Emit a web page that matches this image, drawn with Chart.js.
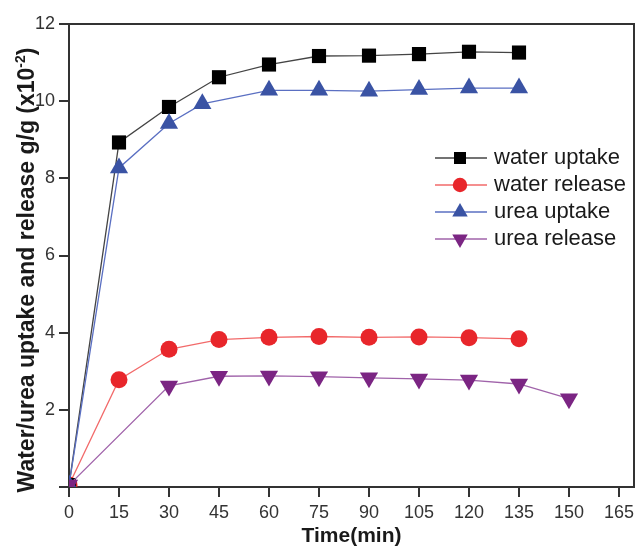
<!DOCTYPE html>
<html>
<head>
<meta charset="utf-8">
<script src="https://cdn.jsdelivr.net/npm/chart.js@4/dist/chart.umd.min.js"></script>
<style>
    body { margin: 0; background: #fff; }
    canvas { display: block; }
</style>
</head>
<body>
<canvas id="grafico" width="637" height="550"></canvas>
<script>
// tempos (min) de cada serie
const temposAgua = [0, 15, 30, 45, 60, 75, 90, 105, 120, 135];
const temposUreiaAbsorcao = [0, 15, 30, 40, 60, 75, 90, 105, 120, 135];
const temposUreiaLiberacao = [0, 30, 45, 60, 75, 90, 105, 120, 135, 150];

// valores g/g (x10^-2)
const aguaAbsorcao = [0.05, 8.93, 9.85, 10.62, 10.95, 11.17, 11.18, 11.22, 11.28, 11.26];
const aguaLiberacao = [0.05, 2.78, 3.57, 3.82, 3.88, 3.9, 3.88, 3.89, 3.87, 3.84];
const ureiaAbsorcao = [0.05, 8.27, 9.42, 9.93, 10.28, 10.28, 10.26, 10.3, 10.34, 10.34];
const ureiaLiberacao = [0.05, 2.62, 2.87, 2.88, 2.86, 2.83, 2.8, 2.77, 2.67, 2.29];

const rotulosX = [0, 15, 30, 45, 60, 75, 90, 105, 120, 135, 150, 165];
const rotulosY = [0, 2, 4, 6, 8, 10, 12];
const nomesSeries = ["water uptake", "water release", "urea uptake", "urea release"];

const fonte = "'Liberation Sans', Arial, sans-serif";

function montarPontos(tempos, valores) {
    return tempos.map((t, i) => ({ x: t, y: valores[i] }));
}

const datasets = [
    {
        label: nomesSeries[0],
        data: montarPontos(temposAgua, aguaAbsorcao),
        borderColor: '#444444',
        backgroundColor: '#000000',
        pointStyle: 'rect',
        pointRadius: 10,
        order: 2
    },
    {
        label: nomesSeries[1],
        data: montarPontos(temposAgua, aguaLiberacao),
        borderColor: '#f26a6a',
        backgroundColor: '#e8262b',
        pointStyle: 'circle',
        pointRadius: 8.5,
        order: 3
    },
    {
        label: nomesSeries[2],
        data: montarPontos(temposUreiaAbsorcao, ureiaAbsorcao),
        borderColor: '#5a6fc2',
        backgroundColor: '#3a53a4',
        pointStyle: 'triangle',
        pointRadius: 10.5,
        order: 1
    },
    {
        label: nomesSeries[3],
        data: montarPontos(temposUreiaLiberacao, ureiaLiberacao),
        borderColor: '#a063aa',
        backgroundColor: '#7b2583',
        pointStyle: 'triangle',
        pointRotation: 180,
        pointRadius: 10.5,
        order: 0
    }
];

datasets.forEach(d => {
    d.borderWidth = 1.3;
    d.pointBorderWidth = 0;
    d.pointBorderColor = d.backgroundColor;
    d.pointBackgroundColor = d.backgroundColor;
    d.tension = 0;
    d.fill = false;
});

// moldura, titulo do eixo y e legenda desenhados a mao
const extras = {
    id: 'extras',
    afterDraw(chart) {
        const ctx = chart.ctx;
        const area = chart.chartArea;
        ctx.save();
        ctx.strokeStyle = '#333';
        ctx.lineWidth = 2;
        ctx.beginPath();
        ctx.moveTo(area.left, area.top);
        ctx.lineTo(area.right, area.top);
        ctx.lineTo(area.right, area.bottom);
        ctx.stroke();

        // titulo do eixo y com expoente
        ctx.translate(34, 270);
        ctx.rotate(-Math.PI / 2);
        ctx.fillStyle = '#1a1a1a';
        ctx.textBaseline = 'alphabetic';
        ctx.textAlign = 'left';
        const parte1 = 'Water/urea uptake and release g/g (x10';
        const expoente = '-2';
        const parte3 = ')';
        ctx.font = 'bold 23px ' + fonte;
        const w1 = ctx.measureText(parte1).width;
        const w3 = ctx.measureText(parte3).width;
        ctx.font = 'bold 14px ' + fonte;
        const w2 = ctx.measureText(expoente).width;
        let x = -(w1 + w2 + w3) / 2;
        ctx.font = 'bold 23px ' + fonte;
        ctx.fillText(parte1, x, 0);
        x += w1;
        ctx.font = 'bold 14px ' + fonte;
        ctx.fillText(expoente, x, -9);
        x += w2;
        ctx.font = 'bold 23px ' + fonte;
        ctx.fillText(parte3, x, 0);
        ctx.restore();

        // legenda
        ctx.save();
        chart.data.datasets.forEach((d, i) => {
            const y = 158 + i * 27;
            ctx.strokeStyle = d.borderColor;
            ctx.lineWidth = 1.3;
            ctx.beginPath();
            ctx.moveTo(435, y);
            ctx.lineTo(487, y);
            ctx.stroke();
            ctx.fillStyle = d.backgroundColor;
            ctx.strokeStyle = d.backgroundColor;
            Chart.helpers.drawPoint(ctx, {
                pointStyle: d.pointStyle,
                rotation: d.pointRotation || 0,
                radius: d.pointRadius * 0.85,
                borderWidth: 0
            }, 460, y);
            ctx.fillStyle = '#1a1a1a';
            ctx.font = '22px ' + fonte;
            ctx.textBaseline = 'middle';
            ctx.textAlign = 'left';
            ctx.fillText(d.label, 494, y);
        });
        ctx.restore();
    }
};

new Chart(document.querySelector('#grafico'), {
    type: 'line',
    data: { datasets: datasets },
    plugins: [extras],
    options: {
        responsive: false,
        animation: false,
        devicePixelRatio: 1,
        layout: { autoPadding: false, padding: { top: 24, right: 3, left: 0, bottom: 0 } },
        plugins: {
            legend: { display: false },
            tooltip: { enabled: false }
        },
        scales: {
            x: {
                type: 'linear',
                min: 0,
                max: 169.5,
                afterBuildTicks: escala => { escala.ticks = rotulosX.map(v => ({ value: v })); },
                afterFit: escala => {
                    escala.height = 63;
                    escala.paddingLeft = 0;
                    escala.paddingRight = 0;
                },
                ticks: {
                    font: { size: 18, family: fonte },
                    color: '#333',
                    maxRotation: 0,
                    autoSkip: false,
                    padding: 5
                },
                grid: { drawOnChartArea: false, tickLength: 10, color: '#333', lineWidth: 2 },
                border: { color: '#333', width: 2 },
                title: {
                    display: true,
                    text: 'Time(min)',
                    font: { size: 21, weight: 'bold', family: fonte },
                    color: '#1a1a1a',
                    padding: { top: 0, bottom: 1 }
                }
            },
            y: {
                min: 0,
                max: 12,
                afterBuildTicks: escala => { escala.ticks = rotulosY.map(v => ({ value: v })); },
                afterFit: escala => {
                    escala.width = 69;
                    escala.paddingTop = 0;
                    escala.paddingBottom = 0;
                },
                ticks: {
                    font: { size: 18, family: fonte },
                    color: '#333',
                    padding: 4,
                    callback: v => v === 0 ? '' : v
                },
                grid: { drawOnChartArea: false, tickLength: 10, color: '#333', lineWidth: 2 },
                border: { color: '#333', width: 2 }
            }
        }
    }
});
</script>
</body>
</html>
